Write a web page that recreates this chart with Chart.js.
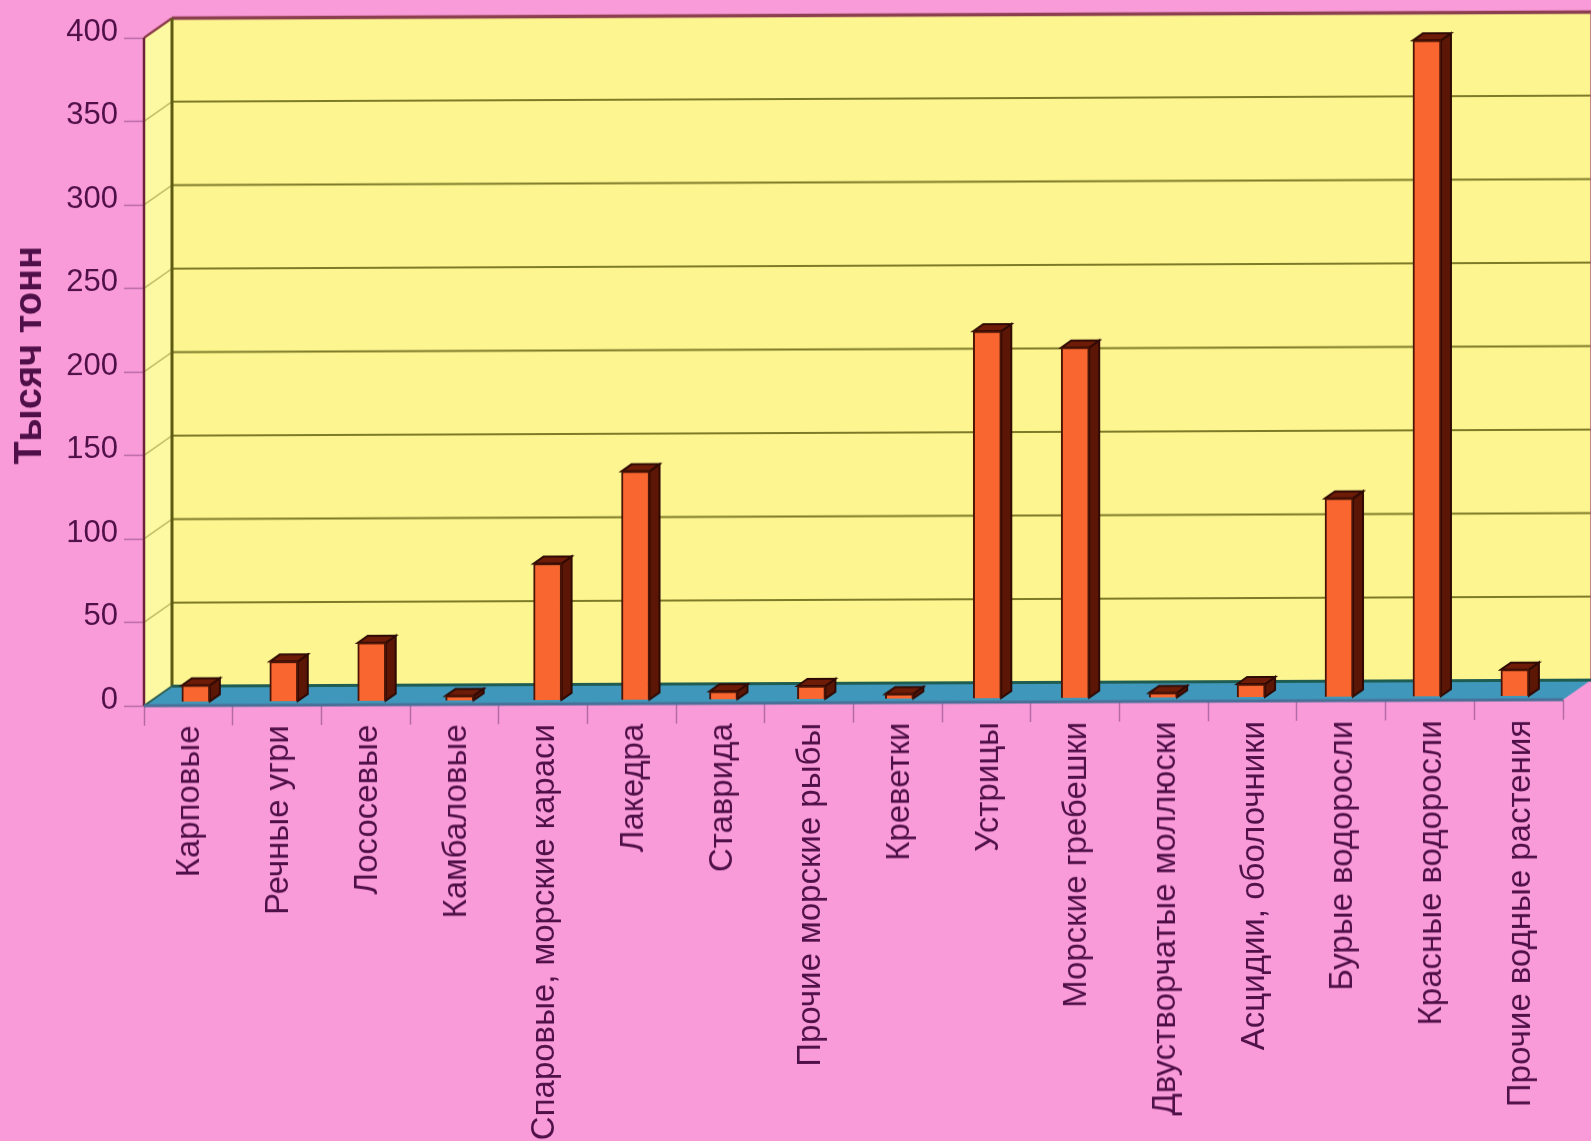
<!DOCTYPE html>
<html lang="ru">
<head>
<meta charset="utf-8">
<title>Тысяч тонн</title>
<script src="https://cdn.jsdelivr.net/npm/chart.js@4/dist/chart.umd.min.js"></script>
<style>
  html, body { margin: 0; background: #fa9bd9; overflow: hidden; }
  #wrap { width: 1591px; height: 1141px; transform: skewY(-0.245deg); transform-origin: 795px 570px; }
  canvas { display: block; }
</style>
</head>
<body>
<div id="wrap"><canvas id="chart" width="1591" height="1141"></canvas></div>
<script>
const categories = [
  'Карповые', 'Речные угри', 'Лососевые', 'Камбаловые',
  'Спаровые, морские караси', 'Лакедра', 'Ставрида', 'Прочие морские рыбы',
  'Креветки', 'Устрицы', 'Морские гребешки', 'Двустворчатые моллюски',
  'Асцидии, оболочники', 'Бурые водоросли', 'Красные водоросли', 'Прочие водные растения'
];
const values = [10, 24, 35, 3, 82, 137, 5, 8, 3, 220, 210, 3, 8, 119, 393, 16];
const yTicks = [0, 50, 100, 150, 200, 250, 300, 350, 400];
const yTitle = 'Тысяч тонн';

const INK = '#4f0f48';
// depth of the box and of the columns, in px
const WALL = { dx: 28, dy: -19.5 };
const COL = { dx: 10, dy: -7, lift: 3.6 };

function poly(ctx, pts, fill, stroke, lw) {
  ctx.beginPath();
  pts.forEach(([x, y], i) => (i ? ctx.lineTo(x, y) : ctx.moveTo(x, y)));
  ctx.closePath();
  if (fill) { ctx.fillStyle = fill; ctx.fill(); }
  if (stroke) { ctx.strokeStyle = stroke; ctx.lineWidth = lw || 1; ctx.stroke(); }
}

function line(ctx, x1, y1, x2, y2, color, lw) {
  ctx.beginPath();
  ctx.moveTo(x1, y1);
  ctx.lineTo(x2, y2);
  ctx.strokeStyle = color;
  ctx.lineWidth = lw;
  ctx.stroke();
}

const box3d = {
  id: 'box3d',
  // columns stand a little inside the floor and drift left against the axis ticks
  afterDatasetsUpdate(chart) {
    chart.getDatasetMeta(0).data.forEach((bar, i) => {
      bar.x += 7.5 - 0.75 * i;
      bar.y -= COL.lift;
      bar.base -= COL.lift;
    });
  },
  beforeDatasetsDraw(chart) {
    const { ctx, chartArea: a, scales: { y } } = chart;
    const top = y.getPixelForValue(400);
    const zero = y.getPixelForValue(0);
    const { dx, dy } = WALL;
    ctx.save();

    // back and side walls, floor
    poly(ctx, [[a.left + dx, top + dy], [a.right + dx, top + dy], [a.right + dx, zero + dy], [a.left + dx, zero + dy]], '#fdf590');
    poly(ctx, [[a.left, top], [a.left + dx, top + dy], [a.left + dx, zero + dy], [a.left, zero]], '#fdf8a2');
    poly(ctx, [[a.left, zero], [a.left + dx, zero + dy], [a.right + dx, zero + dy], [a.right, zero]], '#3f97bb');

    yTicks.forEach((v) => {
      if (v === 0) return;
      const p = y.getPixelForValue(v);
      if (v < 400) {
        line(ctx, a.left, p, a.left + dx, p + dy, '#b5b25a', 1.5);
        line(ctx, a.left + dx, p + dy, a.right + dx, p + dy, '#7d7a28', 1.8);
      }
    });

    line(ctx, a.left, top, a.left + dx, top + dy, '#8c3f4a', 2.5);
    line(ctx, a.left + dx, top + dy, a.right + dx, top + dy, '#8c3f4f', 3.5);
    line(ctx, a.right + dx, top + dy, a.right + dx, zero + dy, '#b0607a', 1.5);
    line(ctx, a.left + dx, top + dy, a.left + dx, zero + dy, '#5f5a12', 3);
    line(ctx, a.left, top, a.left, zero, '#6a2238', 2.5);
    line(ctx, a.left + dx, zero + dy, a.right + dx, zero + dy, '#1f5c52', 3);
    line(ctx, a.left, zero, a.left + dx, zero + dy, '#2f5f50', 2);
    line(ctx, a.left, zero, a.right, zero, '#4a6f97', 3);

    // side and top faces of each column; the front face is the bar itself
    chart.getDatasetMeta(0).data.forEach((bar) => {
      const r = bar.x + bar.width / 2;
      const l = bar.x - bar.width / 2;
      poly(ctx, [[r, bar.y], [r + COL.dx, bar.y + COL.dy], [r + COL.dx, bar.base + COL.dy], [r, bar.base]], '#5c1606', '#2e0a04', 2);
      poly(ctx, [[l, bar.y], [l + COL.dx, bar.y + COL.dy], [r + COL.dx, bar.y + COL.dy], [r, bar.y]], '#6e1c08', '#2e0a04', 2);
    });
    ctx.restore();
  },
  afterDraw(chart) {
    const { ctx } = chart;
    ctx.save();
    ctx.translate(31, 352);
    ctx.rotate(-Math.PI / 2);
    ctx.font = 'bold 38px "Liberation Sans", Arial, sans-serif';
    ctx.fillStyle = INK;
    ctx.textAlign = 'center';
    ctx.textBaseline = 'middle';
    ctx.fillText(yTitle, 0, 0);
    ctx.restore();
  }
};

new Chart(document.getElementById('chart'), {
  type: 'bar',
  data: {
    labels: categories,
    datasets: [{
      data: values,
      backgroundColor: '#f9662f',
      borderColor: '#4a1406',
      borderWidth: 2,
      barThickness: 28,
      clip: false
    }]
  },
  plugins: [box3d],
  options: {
    responsive: false,
    animation: false,
    events: [],
    layout: { padding: { top: 35, right: 28, left: 0, bottom: 0 } },
    plugins: { legend: { display: false }, tooltip: { enabled: false } },
    scales: {
      x: {
        afterFit: (s) => { s.height = 438; },
        border: { display: false },
        grid: { drawOnChartArea: false, tickLength: 20, tickColor: '#b56aa6', tickWidth: 1.5 },
        ticks: {
          autoSkip: false,
          minRotation: 90,
          maxRotation: 90,
          padding: 0,
          labelOffset: 2,
          color: INK,
          font: { family: '"Liberation Sans", Arial, sans-serif', size: 33 }
        }
      },
      y: {
        min: 0,
        max: 400,
        afterFit: (s) => { s.width = 144; },
        afterBuildTicks: (s) => { s.ticks = yTicks.map((value) => ({ value })); },
        border: { display: false },
        grid: { drawOnChartArea: false, tickLength: 20, tickColor: '#b56aa6', tickWidth: 1.5 },
        ticks: {
          labelOffset: -6,
          padding: 6,
          color: INK,
          font: { family: '"Liberation Sans", Arial, sans-serif', size: 31 }
        }
      }
    }
  }
});
</script>
</body>
</html>
